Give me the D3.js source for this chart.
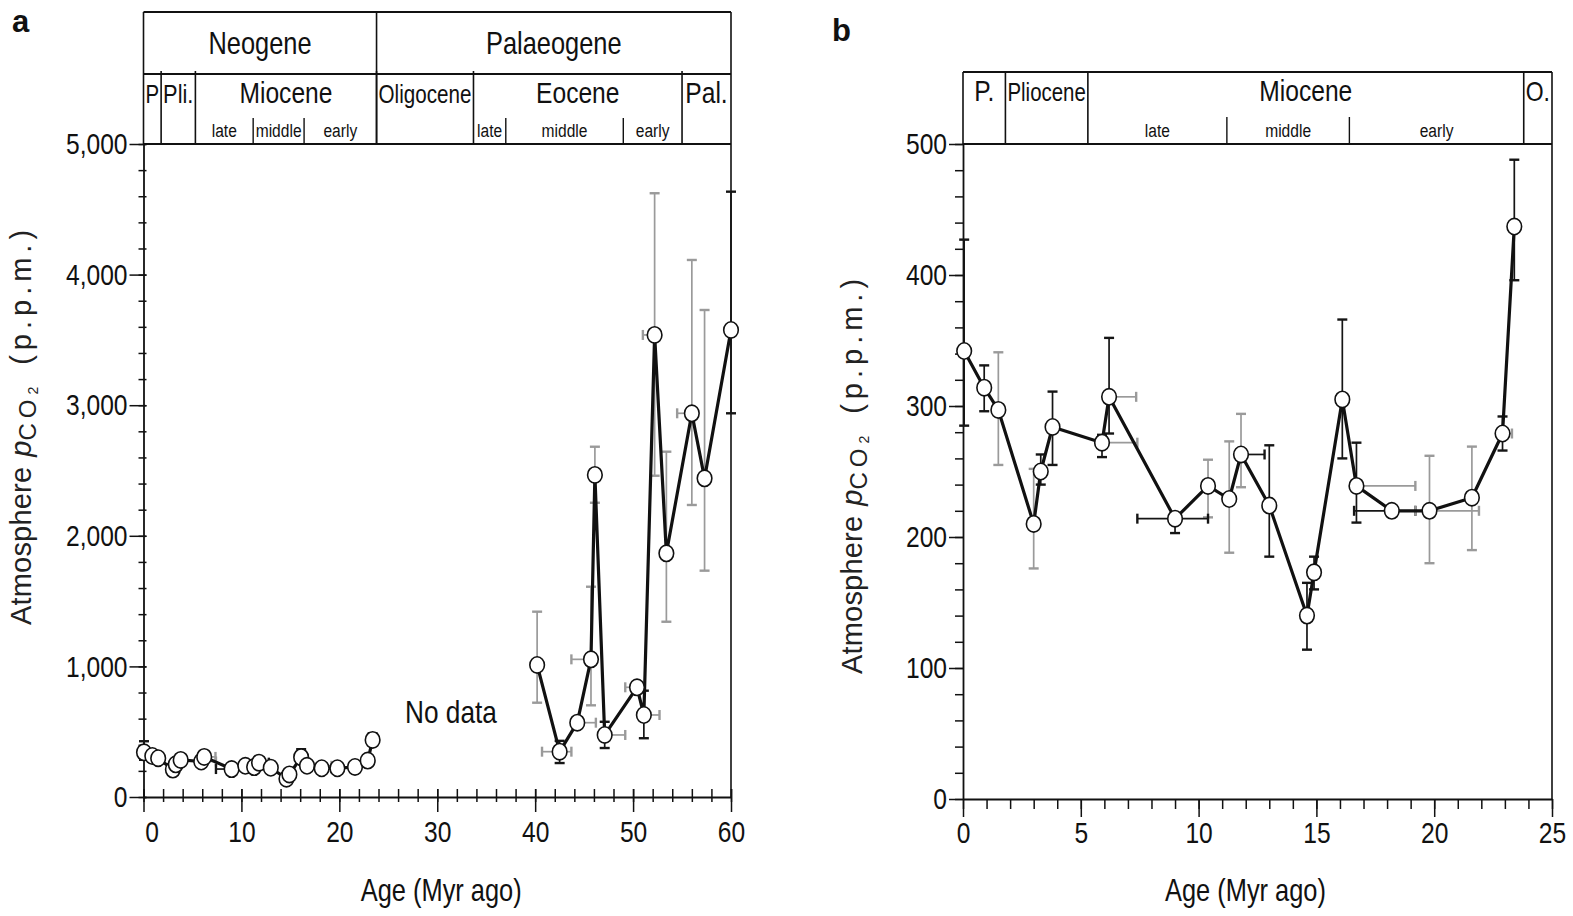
<!DOCTYPE html>
<html>
<head>
<meta charset="utf-8">
<script src="https://cdn.jsdelivr.net/npm/d3@7"></script>
<style>
body { margin: 0; background: #fff; }
svg { display: block; }
</style>
</head>
<body>
<svg id="chart" width="1573" height="916"></svg>
<script>
// ---- data: ages in Myr ago, pCO2 in p.p.m. ----
// Neogene record (all of panel b, and the 0-24 Myr part of panel a)
const neoAge      = [0.05, 0.9, 1.5, 3.0, 3.3, 3.8, 5.9, 6.2, 9.0, 10.4, 11.3, 11.8, 13.0, 14.6, 14.9, 16.1, 16.7, 18.2, 19.8, 21.6, 22.9, 23.4];
const neoCO2      = [342, 314, 297, 210, 250, 284, 272, 307, 214, 239, 229, 263, 224, 140, 173, 305, 239, 220, 220, 230, 279, 437];
const neoErrLo    = [285, 296, 255, 176, 240, 255, 261, 279, 203, 215, 188, 238, 185, 114, 160, 260, 211, null, 180, 190, 266, 396];
const neoErrHi    = [427, 331, 341, 252, 263, 311, 278, 352, 218, 259, 273, 294, 270, 165, 185, 366, 272, null, 262, 269, 292, 488];
const neoErrYType = ['A', 'A', 'B', 'B', 'A', 'A', 'A', 'A', 'A', 'B', 'B', 'B', 'A', 'A', 'A', 'A', 'A', null, 'B', 'B', 'A', 'A'];
const neoAgeLo    = [null, null, null, null, null, null, 5.9, 6.2, 7.4, null, null, 11.6, null, null, null, null, 16.7, 16.6, 19.2, null, 22.9, null];
const neoAgeHi    = [null, null, null, null, null, null, 7.4, 7.35, 10.4, null, null, 12.8, null, null, null, null, 19.2, 19.2, 21.9, null, 23.3, null];
const neoErrXType = [null, null, null, null, null, null, 'B', 'B', 'A', null, null, 'A', null, null, null, null, 'B', 'A', 'B', null, 'B', null];

// Palaeogene record (panel a only)
const paleoAge      = [40.2, 42.5, 44.3, 45.7, 46.1, 47.1, 50.4, 51.1, 52.2, 53.4, 56.0, 57.3, 60.0];
const paleoCO2      = [1011, 347, 569, 1054, 2466, 475, 840, 628, 3538, 1866, 2938, 2440, 3576];
const paleoErrLo    = [722, 260, null, 702, 2253, 375, null, 450, 2460, 1342, 2236, 1733, 2938];
const paleoErrHi    = [1419, 430, null, 1610, 2682, 576, null, 814, 4623, 2644, 4112, 3729, 4635];
const paleoErrYType = ['B', 'A', null, 'B', 'B', 'A', null, 'A', 'B', 'B', 'B', 'B', 'A'];
const paleoAgeLo    = [null, 40.7, 44.3, 43.7, null, 47.1, 49.2, 51.1, 51.0, null, 54.5, null, null];
const paleoAgeHi    = [null, 43.7, 46.2, 45.7, null, 49.2, 50.4, 52.7, 52.2, null, 56.0, null, null];
const paleoErrXType = [null, 'B', 'B', 'B', null, 'B', 'B', 'B', 'B', null, 'B', null, null];

// time scale
const periodNamesA  = ['Neogene', 'Palaeogene'];
const periodBoundsA = [0, 23.8, 60];
const epochNamesA   = ['P', 'Pli.', 'Miocene', 'Oligocene', 'Eocene', 'Pal.'];
const epochBoundsA  = [0, 1.8, 5.3, 23.8, 33.7, 55, 60];
const subNamesA     = ['late', 'middle', 'early', 'late', 'middle', 'early'];
const subFromA      = [5.3, 11.2, 16.4, 33.7, 37, 49];
const subToA        = [11.2, 16.4, 23.8, 37, 49, 55];

const epochNamesB   = ['P.', 'Pliocene', 'Miocene', 'O.'];
const epochBoundsB  = [0, 1.8, 5.3, 23.8, 25];
const subNamesB     = ['late', 'middle', 'early'];
const subFromB      = [5.3, 11.2, 16.4];
const subToB        = [11.2, 16.4, 23.8];

// ticks
const xMajorA = [0, 10, 20, 30, 40, 50, 60];
const xMinorA = d3.range(0, 61, 2);
const yMajorA = [0, 1000, 2000, 3000, 4000, 5000];
const yMinorA = d3.range(0, 5001, 200);
const xMajorB = [0, 5, 10, 15, 20, 25];
const xMinorB = d3.range(0, 26, 1);
const yMajorB = [0, 100, 200, 300, 400, 500];
const yMinorB = d3.range(0, 501, 20);

// ---- drawing ----
const svg = d3.select('#chart');
const ink = '#111';
const errColour = { A: '#151515', B: '#9a9a9a' };
const sans = "'Liberation Sans', Arial, Helvetica, sans-serif";
const squeeze = 0.82;   // no narrow face installed, so squeeze the regular one

function makePoints(age, co2, lo, hi, yType, ageLo, ageHi, xType) {
    return age.map(function(a, i) {
        return { age: a, co2: co2[i], lo: lo[i], hi: hi[i], yType: yType[i],
                 ageLo: ageLo[i], ageHi: ageHi[i], xType: xType[i] };
    });
}
var neo = makePoints(neoAge, neoCO2, neoErrLo, neoErrHi, neoErrYType, neoAgeLo, neoAgeHi, neoErrXType);
var paleo = makePoints(paleoAge, paleoCO2, paleoErrLo, paleoErrHi, paleoErrYType, paleoAgeLo, paleoAgeHi, paleoErrXType);

// narrow text: scale horizontally around the text's own anchor point
function narrow(sel) {
    sel.attr('font-family', sans).each(function() {
        var t = d3.select(this);
        var x = +t.attr('x') || 0, y = +t.attr('y') || 0;
        t.attr('transform', 'translate(' + x + ',' + y + ') scale(' + squeeze + ',1) translate(' + (-x) + ',' + (-y) + ')');
    });
}

function fitText(sel, maxW) {
    sel.each(function() {
        var w = this.getComputedTextLength() * squeeze;
        if (w > maxW) {
            var t = d3.select(this);
            t.attr('font-size', parseFloat(t.attr('font-size')) * maxW / w);
        }
    });
}

function mids(bounds) {
    return bounds.slice(1).map(function(b, i) { return { from: bounds[i], to: b }; });
}

function drawPanel(p) {
    var g = svg.append('g');
    var x0 = p.x.range()[0], x1 = p.x.range()[1];
    var yBot = p.y.range()[0], yTop = p.y.range()[1];

    // ---- header (time scale) ----
    var rows = [p.headTop, yTop];
    if (p.periodNames) rows.push(p.epochTop);
    g.selectAll('.hrow').data(rows).join('line').attr('class', 'hrow')
        .attr('x1', x0).attr('x2', x1).attr('y1', d => d).attr('y2', d => d)
        .attr('stroke', ink).attr('stroke-width', 1.8);
    g.append('line').attr('x1', x0).attr('x2', x0).attr('y1', p.headTop).attr('y2', yTop)
        .attr('stroke', ink).attr('stroke-width', 1.6);
    g.append('line').attr('x1', x1).attr('x2', x1).attr('y1', p.headTop).attr('y2', yBot)
        .attr('stroke', ink).attr('stroke-width', 1.6);

    if (p.periodNames) {
        g.selectAll('.pdiv').data(p.periodBounds.slice(1, -1)).join('line').attr('class', 'pdiv')
            .attr('x1', d => p.x(d)).attr('x2', d => p.x(d)).attr('y1', p.headTop).attr('y2', yTop)
            .attr('stroke', ink).attr('stroke-width', 1.6);
        g.selectAll('.plab').data(mids(p.periodBounds)).join('text').attr('class', 'plab')
            .attr('x', d => p.x((d.from + d.to) / 2)).attr('y', (p.headTop + p.epochTop) / 2 + 11)
            .attr('text-anchor', 'middle').attr('font-size', 31)
            .attr('fill', ink).text((d, i) => p.periodNames[i])
            .call(narrow);
    }

    var eTop = p.periodNames ? p.epochTop : p.headTop;
    g.selectAll('.ediv').data(p.epochBounds.slice(1, -1)).join('line').attr('class', 'ediv')
        .attr('x1', d => p.x(d)).attr('x2', d => p.x(d)).attr('y1', eTop - (p.periodNames ? 3 : 0)).attr('y2', yTop)
        .attr('stroke', ink).attr('stroke-width', 1.6);
    var elab = g.selectAll('.elab').data(mids(p.epochBounds)).join('text').attr('class', 'elab')
        .attr('x', d => p.x((d.from + d.to) / 2)).attr('y', eTop + 29)
        .attr('text-anchor', 'middle').attr('font-size', 30)
        .attr('fill', ink).text((d, i) => p.epochNames[i])
        .call(narrow);
    elab.each(function(d) {
        fitText(d3.select(this), p.x(d.to) - p.x(d.from) - 4);
    });

    var subDivs = p.subFrom.filter((f, i) => i > 0 && f === p.subTo[i - 1]);
    g.selectAll('.sdiv').data(subDivs).join('line').attr('class', 'sdiv')
        .attr('x1', d => p.x(d)).attr('x2', d => p.x(d)).attr('y1', p.subTop).attr('y2', yTop)
        .attr('stroke', ink).attr('stroke-width', 1.4);
    g.selectAll('.slab').data(p.subNames).join('text').attr('class', 'slab')
        .attr('x', (d, i) => p.x((p.subFrom[i] + p.subTo[i]) / 2)).attr('y', yTop - 7)
        .attr('text-anchor', 'middle').attr('font-size', 19)
        .attr('fill', ink).text(d => d)
        .call(narrow);

    // ---- axes ----
    function styleAxis(ax) {
        ax.attr('font-family', sans).attr('font-size', 30);
        ax.select('.domain').attr('stroke', ink).attr('stroke-width', 1.8);
        ax.selectAll('.tick line').attr('stroke', ink).attr('stroke-width', 1.5);
        ax.selectAll('.tick text').attr('fill', ink).call(narrow);
    }
    var gxm = g.append('g').attr('transform', 'translate(0,' + yBot + ')')
        .call(d3.axisBottom(p.x).tickValues(p.xMinor).tickSize(p.xMinorLen[1]).tickSizeOuter(0).tickFormat(''));
    gxm.selectAll('.tick line').attr('y1', -p.xMinorLen[0]);
    styleAxis(gxm);
    var gx = g.append('g').attr('transform', 'translate(0,' + yBot + ')')
        .call(d3.axisBottom(p.x).tickValues(p.xMajor).tickSize(p.xMajorLen[1]).tickSizeOuter(0)
            .tickPadding(p.xPad).tickFormat(d3.format('d')));
    gx.selectAll('.tick line').attr('y1', -p.xMajorLen[0]);
    gx.select('.domain').remove();
    styleAxis(gx);
    if (p.zeroShift) gx.selectAll('.tick text').filter(d => d === 0).attr('dx', p.zeroShift);

    var gym = g.append('g').attr('transform', 'translate(' + x0 + ',0)')
        .call(d3.axisLeft(p.y).tickValues(p.yMinor).tickSize(p.yMinorLen[1]).tickSizeOuter(0).tickFormat(''));
    gym.selectAll('.tick line').attr('x1', p.yMinorLen[0]);
    styleAxis(gym);
    var gy = g.append('g').attr('transform', 'translate(' + x0 + ',0)')
        .call(d3.axisLeft(p.y).tickValues(p.yMajor).tickSize(p.yMajorLen[1]).tickSizeOuter(0)
            .tickPadding(2).tickFormat(p.yFormat));
    gy.selectAll('.tick line').attr('x1', p.yMajorLen[0]);
    gy.select('.domain').remove();
    styleAxis(gy);

    // axis titles
    g.append('text').attr('x', (x0 + x1) / 2 + p.xTitleShift).attr('y', 901)
        .attr('text-anchor', 'middle').attr('font-size', 31)
        .attr('fill', ink).text('Age (Myr ago)')
        .call(narrow);

    var yl = g.append('text').attr('transform', 'translate(' + p.yTitle[0] + ',' + p.yTitle[1] + ') rotate(-90)')
        .attr('text-anchor', 'middle').attr('font-family', sans).attr('font-size', 29).attr('fill', '#222');
    yl.append('tspan').attr('letter-spacing', 0.2).text('Atmosphere');
    yl.append('tspan').attr('font-style', 'italic').attr('dx', 10).text('p');
    yl.append('tspan').attr('font-size', 24).attr('letter-spacing', 5).attr('dy', 5).text('CO');
    yl.append('tspan').attr('font-size', 14).attr('dy', 2).text('2');
    yl.append('tspan').attr('dy', -7).attr('dx', 22).attr('letter-spacing', 5).text('(p.p.m.)');

    // ---- error bars ----
    var pts = [].concat.apply([], p.segments);
    var ey = g.append('g').selectAll('g').data(pts.filter(d => d.lo != null)).join('g')
        .attr('stroke', d => errColour[d.yType]).attr('stroke-width', 1.7);
    ey.append('line').attr('x1', d => p.x(d.age)).attr('x2', d => p.x(d.age))
        .attr('y1', d => p.y(d.lo)).attr('y2', d => p.y(d.hi));
    ey.append('line').attr('x1', d => p.x(d.age) - 5).attr('x2', d => p.x(d.age) + 5)
        .attr('y1', d => p.y(d.lo)).attr('y2', d => p.y(d.lo)).attr('stroke-width', 2.4);
    ey.append('line').attr('x1', d => p.x(d.age) - 5).attr('x2', d => p.x(d.age) + 5)
        .attr('y1', d => p.y(d.hi)).attr('y2', d => p.y(d.hi)).attr('stroke-width', 2.4);

    var ex = g.append('g').selectAll('g').data(pts.filter(d => d.ageLo != null)).join('g')
        .attr('stroke', d => errColour[d.xType]).attr('stroke-width', 1.7);
    ex.append('line').attr('x1', d => p.x(d.ageLo)).attr('x2', d => p.x(d.ageHi))
        .attr('y1', d => p.y(d.co2)).attr('y2', d => p.y(d.co2));
    ex.append('line').attr('x1', d => p.x(d.ageLo)).attr('x2', d => p.x(d.ageLo))
        .attr('y1', d => p.y(d.co2) - 5).attr('y2', d => p.y(d.co2) + 5).attr('stroke-width', 2.4);
    ex.append('line').attr('x1', d => p.x(d.ageHi)).attr('x2', d => p.x(d.ageHi))
        .attr('y1', d => p.y(d.co2) - 5).attr('y2', d => p.y(d.co2) + 5).attr('stroke-width', 2.4);

    // ---- line and markers ----
    var line = d3.line().x(d => p.x(d.age)).y(d => p.y(d.co2));
    g.append('g').selectAll('path').data(p.segments).join('path')
        .attr('d', line).attr('fill', 'none').attr('stroke', ink)
        .attr('stroke-width', 3.2).attr('stroke-linejoin', 'round');
    g.append('g').selectAll('ellipse').data(pts).join('ellipse')
        .attr('cx', d => p.x(d.age)).attr('cy', d => p.y(d.co2)).attr('rx', 7.3).attr('ry', 8.2)
        .attr('fill', '#fff').attr('stroke', ink).attr('stroke-width', 1.6);

    // panel letter
    g.append('text').attr('x', p.letterAt[0]).attr('y', p.letterAt[1])
        .attr('font-family', sans).attr('font-size', 31).attr('font-weight', 'bold')
        .attr('fill', ink).text(p.letter);
    return g;
}

var xA = d3.scaleLinear().domain([0, 60]).range([143.5, 731]);
var yA = d3.scaleLinear().domain([0, 5000]).range([797, 144]);
var xB = d3.scaleLinear().domain([0, 25]).range([963, 1552]);
var yB = d3.scaleLinear().domain([0, 500]).range([799, 144]);

var gA = drawPanel({
    x: xA, y: yA, headTop: 12, epochTop: 74, subTop: 118,
    periodNames: periodNamesA, periodBounds: periodBoundsA,
    epochNames: epochNamesA, epochBounds: epochBoundsA,
    subNames: subNamesA, subFrom: subFromA, subTo: subToA,
    xMajor: xMajorA, xMinor: xMinorA, xMajorLen: [8, 15], xMinorLen: [8, 5], xPad: 9, zeroShift: 10,
    yMajor: yMajorA, yMinor: yMinorA, yMajorLen: [3, 14], yMinorLen: [3, 5], yFormat: d3.format(','),
    xTitleShift: 4, yTitle: [31, 425],
    segments: [neo, paleo], letter: 'a', letterAt: [12, 32]
});
gA.append('text').attr('x', xA(31.4)).attr('y', yA(650) + 11)
    .attr('text-anchor', 'middle').attr('font-size', 32)
    .attr('fill', ink).text('No data')
    .call(narrow);

drawPanel({
    x: xB, y: yB, headTop: 72, subTop: 117,
    epochNames: epochNamesB, epochBounds: epochBoundsB,
    subNames: subNamesB, subFrom: subFromB, subTo: subToB,
    xMajor: xMajorB, xMinor: xMinorB, xMajorLen: [0, 18], xMinorLen: [0, 10], xPad: 5,
    yMajor: yMajorB, yMinor: yMinorB, yMajorLen: [0, 14], yMinorLen: [0, 8], yFormat: d3.format('d'),
    xTitleShift: -12, yTitle: [862, 474],
    segments: [neo], letter: 'b', letterAt: [832, 41]
});
</script>
</body>
</html>
